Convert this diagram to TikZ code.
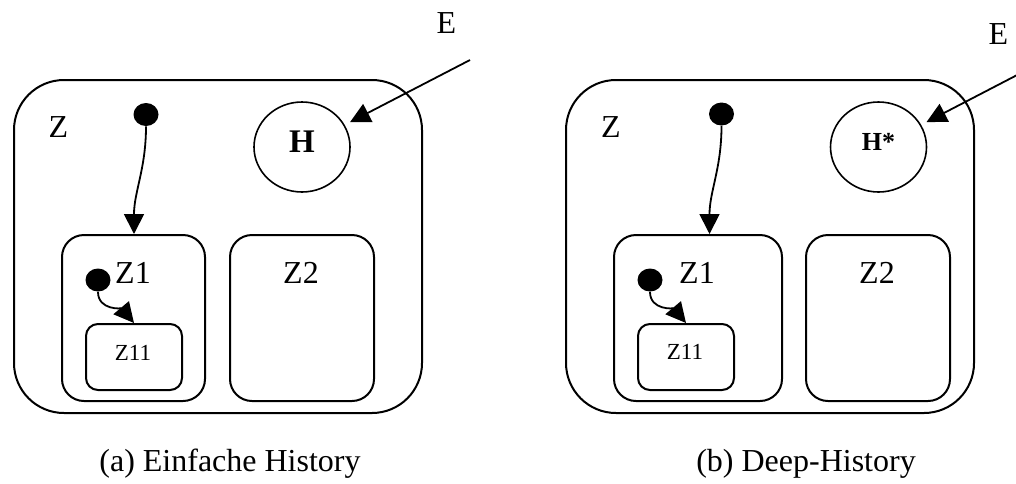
\documentclass[tikz,border=0pt]{standalone}
\usepackage{fontspec}
\setmainfont{Liberation Serif}
\usetikzlibrary{arrows.meta,shapes.geometric,calc}

\begin{document}
\begin{tikzpicture}[x=0.5pt,y=-0.5pt,
    state/.style={draw, line width=1pt, inner sep=0pt},
    initdot/.style={ellipse, fill=black, minimum width=12.5pt, minimum height=11.5pt, inner sep=0pt},
    hist/.style={ellipse, draw, line width=0.8pt, minimum width=48pt, minimum height=45pt, inner sep=0pt, text depth=5pt},
    arr/.style={-{Triangle[length=10pt,width=10pt]}, line width=0.9pt},
    lbl/.style={font=\fontsize{16}{18}\selectfont, inner sep=0pt},
    small/.style={font=\fontsize{11.5}{13}\selectfont, inner sep=0pt}
]

    \clip (0,0) rectangle (1016,483);

    % (a) simple history
    \node[state, rounded corners=25pt, minimum width=204pt, minimum height=166.5pt] (Za) at (218,246.5) {};
    \node[state, rounded corners=11pt, minimum width=71.5pt, minimum height=83pt] (Z1a) at (133.5,318) {};
    \node[state, rounded corners=11pt, minimum width=72pt, minimum height=83pt] (Z2a) at (302,318) {};
    \node[state, rounded corners=6pt, minimum width=48pt, minimum height=33pt] (Z11a) at (134,357) {};
    \node[hist, font=\fontsize{16.5}{18}\selectfont\bfseries] (Ha) at (302,147) {H};
    \node[initdot] (d1a) at (146,114.5) {};
    \node[initdot] (d2a) at (98,280) {};
    \coordinate (Ea) at (470,60);

    \node[lbl] (za) at (58.5,127) {Z};
    \node[lbl] (z1a) at (133,272.5) {Z1};
    \node[lbl] (z2a) at (301,272.5) {Z2};
    \node[small] (z11a) at (133,352.5) {Z11};
    \node[lbl] (ea) at (446.5,23) {E};

    \draw[arr] (d1a.south) to[out=-90,in=90] ($(d1a.south |- Z1a.north)+(-12,0)$);
    \draw[arr] (d2a.south) to[out=-90,in=130] (Z11a.north);
    \draw[arr, shorten >=3pt] (Ea) -- (Ha);

    \node[lbl] (capa) at (230,464) {(a) Einfache History};

    % (b) deep history
    \node[state, rounded corners=25pt, minimum width=204pt, minimum height=166.5pt] (Zb) at (770,246.5) {};
    \node[state, rounded corners=11pt, minimum width=84pt, minimum height=83pt] (Z1b) at (698,318) {};
    \node[state, rounded corners=11pt, minimum width=72pt, minimum height=83pt] (Z2b) at (878,318) {};
    \node[state, rounded corners=6pt, minimum width=48pt, minimum height=33pt] (Z11b) at (686,357) {};
    \node[hist, font=\fontsize{13}{15}\selectfont\bfseries] (Hb) at (878.5,147) {H*};
    \node[initdot] (d1b) at (721.5,114) {};
    \node[initdot] (d2b) at (650,280) {};
    \coordinate (Eb) at (1046,60);

    \node[lbl] (zb) at (611,127) {Z};
    \node[lbl] (z1b) at (697,272.5) {Z1};
    \node[lbl] (z2b) at (877,272.5) {Z2};
    \node[small] (z11b) at (685,352) {Z11};
    \node[lbl] (eb) at (998.5,34) {E};

    \draw[arr] (d1b.south) to[out=-90,in=90] ($(d1b.south |- Z1b.north)+(-12,0)$);
    \draw[arr] (d2b.south) to[out=-90,in=130] (Z11b.north);
    \draw[arr, shorten >=3pt] (Eb) -- (Hb);

    \node[lbl] (capb) at (806,464) {(b) Deep-History};

\end{tikzpicture}
\end{document}
